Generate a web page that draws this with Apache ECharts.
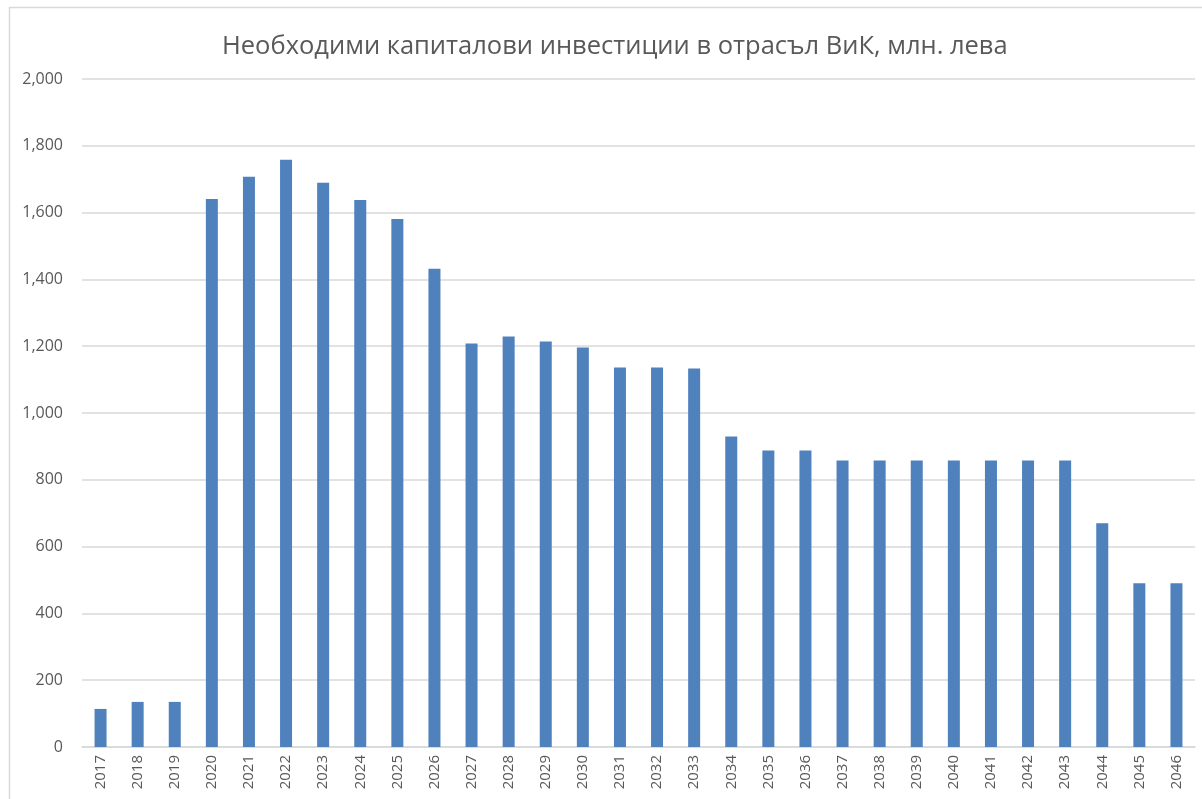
<!DOCTYPE html>
<html>
<head>
<meta charset="utf-8">
<script src="https://cdn.jsdelivr.net/npm/echarts@6/dist/echarts.min.js"></script>
<style>
    html, body { margin: 0; padding: 0; background: #fff; }
    #chart { width: 1202px; height: 799px; }
</style>
</head>
<body>
<div id="chart"></div>
<script>
const varFont = 'Open Sans';

const years = ['2017', '2018', '2019', '2020', '2021', '2022', '2023', '2024', '2025', '2026',
    '2027', '2028', '2029', '2030', '2031', '2032', '2033', '2034', '2035', '2036',
    '2037', '2038', '2039', '2040', '2041', '2042', '2043', '2044', '2045', '2046'];

const investments = [114, 135, 135, 1641, 1707, 1758, 1689, 1638, 1581, 1432,
    1208, 1229, 1214, 1196, 1136, 1136, 1133, 930, 888, 888,
    858, 858, 858, 858, 858, 858, 858, 670, 490, 490];

const titleText = 'Необходими капиталови инвестиции в отрасъл ВиК, млн. лева';

var myChart = echarts.init(document.getElementById('chart'));

var option = {
    animation: false,
    textStyle: {
        fontFamily: varFont,
    },
    // chart border (top/left visible, rest cropped)
    graphic: [
        {
            type: 'rect',
            left: 7,
            top: 5,
            shape: { width: 1300, height: 900 },
            style: { fill: 'none', stroke: '#d9d9d9', lineWidth: 1.5 },
            silent: true,
        }
    ],
    title: {
        text: titleText,
        left: 217,
        top: 29,
        textStyle: {
            fontFamily: varFont,
            fontSize: 25.5,
            fontWeight: 'normal',
            color: '#595959',
        },
    },
    grid: {
        left: 82,
        right: 7,
        top: 79,
        bottom: 52,
    },
    xAxis: {
        type: 'category',
        data: years,
        axisLine: {
            lineStyle: { color: '#d9d9d9', width: 1.5 },
        },
        axisTick: { show: false },
        axisLabel: {
            rotate: 90,
            color: '#595959',
            fontSize: 15,
            margin: 8,
        },
    },
    yAxis: {
        type: 'value',
        min: 0,
        max: 2000,
        interval: 200,
        axisLine: { show: false },
        axisTick: { show: false },
        axisLabel: {
            color: '#595959',
            fontSize: 16,
            margin: 19,
            formatter: (v) => v.toLocaleString('en-US'),
        },
        splitLine: {
            lineStyle: { color: '#d9d9d9', width: 1.5 },
        },
    },
    series: [
        {
            name: 'Инвестиции',
            type: 'bar',
            data: investments,
            barWidth: 12,
            itemStyle: {
                color: '#4f81bd',
            },
        }
    ],
};

myChart.setOption(option);
</script>
</body>
</html>
